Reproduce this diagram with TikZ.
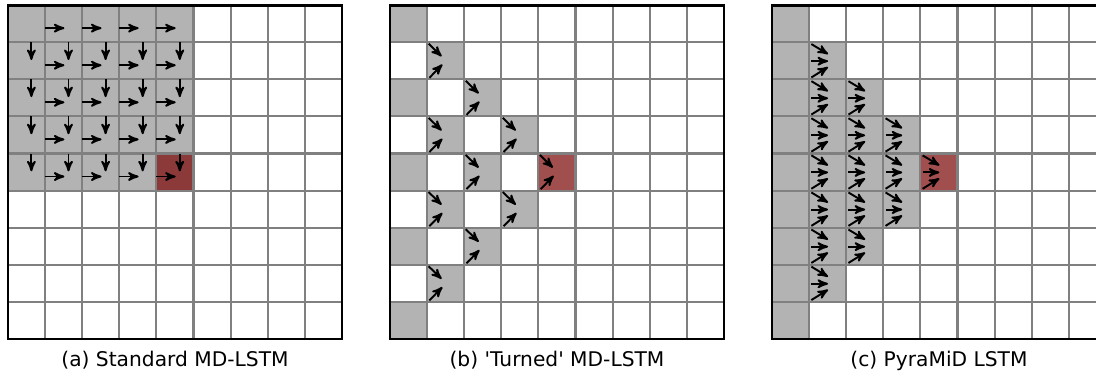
\documentclass[tikz,border=0pt]{standalone}
\usepackage{fontspec}
\setmainfont{DejaVu Sans}
\usepackage{tikz}
\usetikzlibrary{arrows}
\definecolor{cellgray}{RGB}{179,179,179}
\definecolor{linegray}{RGB}{128,128,128}
\definecolor{hotred}{RGB}{125,10,10}
\tikzset{
x=0.742cm, y=0.742cm, % one unit is one cell
>=stealth', % bold arrow heads
gridlines/.style={linegray, line width=1.2pt},
frame/.style={black, line width=1.6pt},
done/.style={fill=cellgray}, % cells that are already computed
current/.style={fill=hotred, fill opacity=0.72}, % the cell being computed
flow/.style={->, line width=1.1pt},
caption/.style={anchor=base, font=\fontsize{11.5}{14}\selectfont},
}

\begin{document}
\begin{tikzpicture}
\clip (0,0) rectangle (29.542,10.054);
% (a) all cells above and to the left
\begin{scope}[shift={(0.216,0.916)}]
  \foreach \r in {0,...,4}
    \foreach \c in {0,...,4}
      \fill[done] (\c,8-\r) rectangle ++(1,1);
  \fill[current] (4,4) rectangle (5,5);
  \draw[gridlines] (0,0) grid[step={(1,1)}] (9,9);
  \foreach \r in {0,...,4}
    \foreach \c in {1,...,4}
      \draw[flow] (\c,8.38-\r) -- ++(0.52,0);
  \foreach \r in {1,...,4}
    \foreach \c in {0,...,4}
      \draw[flow] (\c+0.63,9-\r) -- ++(0,-0.48);
  \draw[frame] (0,0) rectangle (9,9);
  \node[caption] (capA) at (4.5,-0.73) {(a) Standard MD-LSTM};
\end{scope}
% (b) diagonal neighbours only
\begin{scope}[shift={(10.513,0.916)}]
  \foreach \c [evaluate=\c as \rn using int(\c+2), evaluate=\c as \rl using int(8-\c)] in {0,...,3}
    \foreach \r in {\c,\rn,...,\rl}
      \fill[done] (\c,8-\r) rectangle ++(1,1);
  \fill[current] (4,4) rectangle (5,5);
  \draw[gridlines] (0,0) grid[step={(1,1)}] (9,9);
  \foreach \c/\r in {1/1,1/3,1/5,1/7,2/2,2/4,2/6,3/3,3/5,4/4} {
    \draw[flow] (\c+0.04,8.96-\r) -- (\c+0.39,8.62-\r);
    \draw[flow] (\c+0.06,8.04-\r) -- (\c+0.41,8.40-\r);
  }
  \draw[frame] (0,0) rectangle (9,9);
  \node[caption] (capB) at (4.5,-0.73) {(b) \textquotesingle Turned\textquotesingle\ MD-LSTM};
\end{scope}
% (c) pyramid: three inputs from the column before
\begin{scope}[shift={(20.809,0.916)}]
  \foreach \c [evaluate=\c as \rl using int(8-\c)] in {0,...,3}
    \foreach \r in {\c,...,\rl}
      \fill[done] (\c,8-\r) rectangle ++(1,1);
  \fill[current] (4,4) rectangle (5,5);
  \draw[gridlines] (0,0) grid[step={(1,1)}] (9,9);
  \foreach \c [evaluate=\c as \rl using int(8-\c)] in {1,...,4}
    \foreach \r in {\c,...,\rl} {
      \draw[flow] (\c+0.06,8.95-\r) -- (\c+0.51,8.68-\r);
      \draw[flow] (\c+0.06,8.49-\r) -- (\c+0.51,8.49-\r);
      \draw[flow] (\c+0.06,8.05-\r) -- (\c+0.51,8.33-\r);
    }
  \draw[frame] (0,0) rectangle (9,9);
  \node[caption] (capC) at (4.5,-0.73) {(c) PyraMiD LSTM};
\end{scope}
\end{tikzpicture}
\end{document}
